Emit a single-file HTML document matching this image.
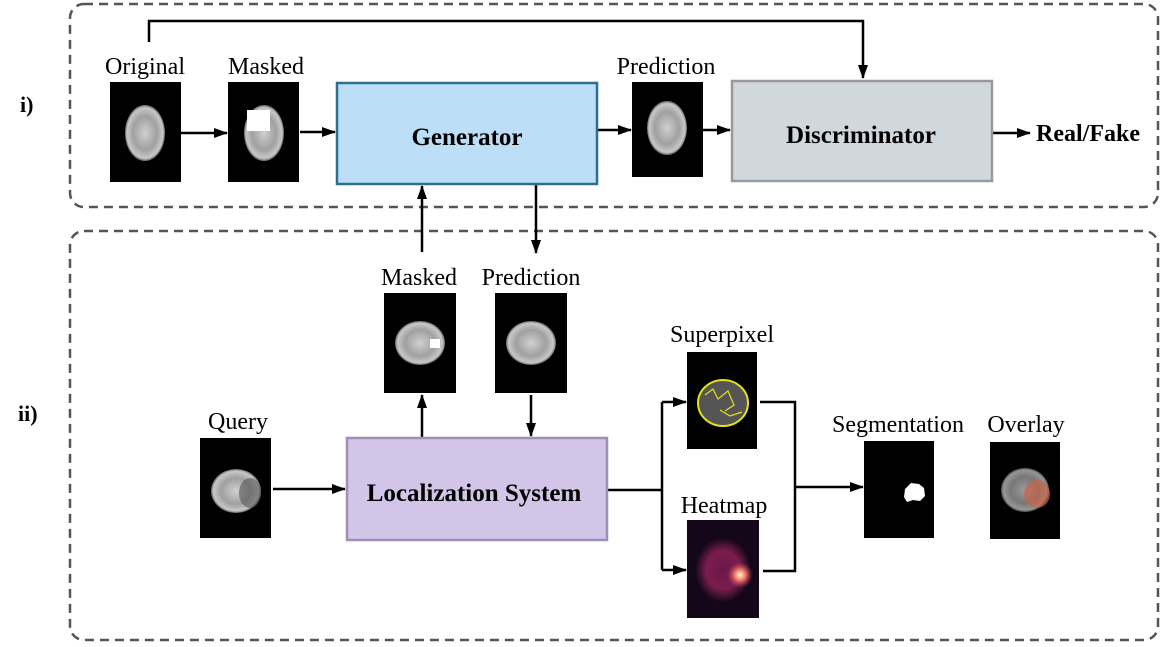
<!DOCTYPE html>
<html><head><meta charset="utf-8"><style>
html,body{margin:0;padding:0;background:#fff;width:1164px;height:647px;overflow:hidden}
svg text{font-family:"Liberation Serif",serif;fill:#000}
</style></head><body>
<svg width="1164" height="647" viewBox="0 0 1164 647" xmlns="http://www.w3.org/2000/svg">
<defs>
<marker id="ah" markerWidth="14" markerHeight="10" refX="13" refY="5" orient="auto" markerUnits="userSpaceOnUse">
<path d="M0,0 L14,5 L0,10 Z" fill="#000"/></marker>
<radialGradient id="br" cx="50%" cy="50%" r="50%"><stop offset="0" stop-color="#d0d0d0"/><stop offset="0.6" stop-color="#a0a0a0"/><stop offset="0.9" stop-color="#c8c8c8"/><stop offset="1" stop-color="#666"/></radialGradient>
<radialGradient id="hm" cx="50%" cy="50%" r="50%"><stop offset="0" stop-color="#6a1848"/><stop offset="0.6" stop-color="#7a1d4e"/><stop offset="1" stop-color="#140818"/></radialGradient>
<radialGradient id="hot" cx="50%" cy="50%" r="50%"><stop offset="0" stop-color="#fff4d0"/><stop offset="0.4" stop-color="#f2806a"/><stop offset="1" stop-color="#c0305a" stop-opacity="0"/></radialGradient>
</defs>
<rect x="70" y="4" width="1088" height="203" rx="14" fill="none" stroke="#555" stroke-width="2.5" stroke-dasharray="9,6"/>
<rect x="70" y="231" width="1088" height="409" rx="14" fill="none" stroke="#555" stroke-width="2.5" stroke-dasharray="9,6"/>
<text x="20" y="112" font-size="22" font-weight="bold">i)</text>
<text x="18" y="421" font-size="22" font-weight="bold">ii)</text>

<g stroke="#000" stroke-width="2.5" fill="none">
<path d="M149,42 V21 H863 V78" marker-end="url(#ah)"/>
<line x1="181" y1="133" x2="227" y2="133" marker-end="url(#ah)"/>
<line x1="300" y1="132" x2="335" y2="132" marker-end="url(#ah)"/>
<line x1="597" y1="130" x2="631" y2="130" marker-end="url(#ah)"/>
<line x1="703" y1="130" x2="730" y2="130" marker-end="url(#ah)"/>
<line x1="992" y1="133" x2="1030" y2="133" marker-end="url(#ah)"/>
<line x1="422" y1="252" x2="422" y2="186" marker-end="url(#ah)"/>
<line x1="536" y1="185" x2="536" y2="253" marker-end="url(#ah)"/>
<line x1="422" y1="437" x2="422" y2="395" marker-end="url(#ah)"/>
<line x1="531" y1="395" x2="531" y2="436" marker-end="url(#ah)"/>
<line x1="273" y1="489" x2="345" y2="489" marker-end="url(#ah)"/>
<path d="M608,490 H662"/>
<path d="M662,402 V570"/>
<line x1="662" y1="402" x2="686" y2="402" marker-end="url(#ah)"/>
<line x1="662" y1="570" x2="686" y2="570" marker-end="url(#ah)"/>
<path d="M760,402 H795 V571 H763"/>
<line x1="795" y1="487" x2="863" y2="487" marker-end="url(#ah)"/>
</g>

<rect x="337" y="83" width="260" height="101" fill="#bcdff7" stroke="#2f6e8e" stroke-width="2.5"/>
<text x="467" y="145" font-size="25" font-weight="bold" text-anchor="middle">Generator</text>
<rect x="732" y="81" width="260" height="100" fill="#d0d8de" stroke="#999" stroke-width="2.5"/>
<text x="861" y="143" font-size="25" font-weight="bold" text-anchor="middle">Discriminator</text>
<text x="1036" y="141" font-size="24" font-weight="bold">Real/Fake</text>
<rect x="347" y="438" width="260" height="102" fill="#d2c5e8" stroke="#9d8fb8" stroke-width="2.5"/>
<text x="474" y="501" font-size="25" font-weight="bold" text-anchor="middle">Localization System</text>

<g font-size="24" text-anchor="middle">
<text x="145" y="74">Original</text>
<text x="266" y="74">Masked</text>
<text x="666" y="74">Prediction</text>
<text x="419" y="285">Masked</text>
<text x="531" y="285">Prediction</text>
<text x="238" y="429">Query</text>
<text x="722" y="342">Superpixel</text>
<text x="724" y="513">Heatmap</text>
<text x="898" y="432">Segmentation</text>
<text x="1026" y="432">Overlay</text>
</g>

<rect x="110" y="82" width="71" height="100" fill="#000"/>
<ellipse cx="145" cy="133" rx="20" ry="28" fill="url(#br)"/>
<rect x="228" y="82" width="71" height="100" fill="#000"/>
<ellipse cx="264" cy="133" rx="20" ry="28" fill="url(#br)"/>
<rect x="247" y="110" width="23" height="21" fill="#fff"/>
<rect x="632" y="82" width="71" height="95" fill="#000"/>
<ellipse cx="667" cy="128" rx="20" ry="27" fill="url(#br)"/>

<rect x="384" y="293" width="72" height="100" fill="#000"/>
<ellipse cx="420" cy="343" rx="25" ry="22" fill="url(#br)"/>
<rect x="430" y="339" width="10" height="9" fill="#fff"/>
<rect x="495" y="293" width="72" height="100" fill="#000"/>
<ellipse cx="531" cy="343" rx="25" ry="22" fill="url(#br)"/>
<rect x="200" y="438" width="71" height="100" fill="#000"/>
<ellipse cx="236" cy="491" rx="25" ry="22" fill="url(#br)"/>
<ellipse cx="250" cy="493" rx="11" ry="15" fill="#555" opacity="0.6"/>

<rect x="687" y="352" width="70" height="97" fill="#000"/>
<ellipse cx="723" cy="403" rx="25" ry="23" fill="#555" stroke="#e6e21a" stroke-width="2"/>
<path d="M705,395 l8,-6 l5,10 l10,-8 l6,14 l-9,6 M720,410 l10,6 l12,-4" stroke="#e6e21a" stroke-width="1.2" fill="none"/>
<rect x="687" y="520" width="72" height="98" fill="#140818"/>
<ellipse cx="723" cy="570" rx="28" ry="32" fill="url(#hm)"/>
<circle cx="740" cy="575" r="13" fill="url(#hot)"/>
<rect x="864" y="441" width="70" height="97" fill="#000"/>
<path d="M905,489 l6,-6 l8,1 l5,4 l1,8 l-5,5 l-7,-1 l-6,2 l-3,-5 z" fill="#fff"/>
<rect x="990" y="442" width="70" height="97" fill="#000"/>
<ellipse cx="1025" cy="490" rx="24" ry="22" fill="url(#br)" opacity="0.75"/>
<ellipse cx="1037" cy="494" rx="13" ry="14" fill="#c8644a" opacity="0.7"/>
</svg>
</body></html>
